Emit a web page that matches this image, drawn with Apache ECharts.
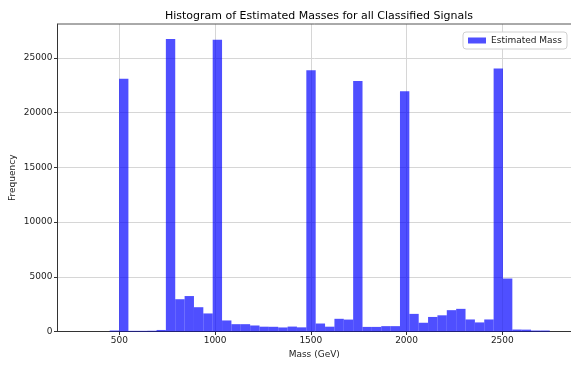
<!DOCTYPE html>
<html>
<head>
<meta charset="utf-8">
<script src="https://cdn.jsdelivr.net/npm/echarts@6/dist/echarts.min.js"></script>
<style>
  html, body { margin: 0; padding: 0; background: #fff; }
  #chart { width: 571px; height: 365px; }
</style>
</head>
<body>
<div id="chart"></div>
<script>
// Histogram bins: 50 equal-width bins over the mass range (GeV)
const binStart = 302.8;
const binWidth = 48.9;
const binCounts = [
  0, 0, 0, 90, 23100, 60, 60, 70, 140, 26720,
  2950, 3240, 2220, 1650, 26650, 1010, 670, 670, 550, 440,
  430, 370, 450, 380, 23880, 730, 440, 1160, 1090, 22880,
  420, 420, 490, 490, 21960, 1610, 800, 1330, 1480, 1950,
  2070, 1100, 830, 1100, 24040, 4840, 180, 170, 90, 90
];
const xTicks = [500, 1000, 1500, 2000, 2500];
const yTicks = [0, 5000, 10000, 15000, 20000, 25000];
const seriesName = 'Estimated Mass';

const binData = binCounts.map((c, i) => [
  binStart + i * binWidth,
  binStart + (i + 1) * binWidth,
  c
]);

const font = 'DejaVu Sans';
const plain = v => String(v);
const chart = echarts.init(document.getElementById('chart'), null, { renderer: 'canvas' });

chart.setOption({
  animation: false,
  title: {
    text: 'Histogram of Estimated Masses for all Classified Signals',
    left: 314, top: 6, textAlign: 'center',
    textStyle: { fontFamily: font, fontSize: 11, fontWeight: 'normal', color: '#000' }
  },
  legend: {
    data: [seriesName],
    right: 4, top: 32,
    itemWidth: 18, itemHeight: 6, itemGap: 6,
    padding: [4, 5, 4, 5],
    borderColor: '#d0d0d0', borderWidth: 1, borderRadius: 3,
    backgroundColor: '#fff',
    textStyle: { fontFamily: font, fontSize: 9, color: '#222' },
    icon: 'rect'
  },
  grid: { left: 57.5, right: 0, top: 24, bottom: 33.5, containLabel: false, outerBoundsMode: 'none' },
  xAxis: {
    type: 'value',
    min: 177, max: 2858.5,
    name: 'Mass (GeV)', nameLocation: 'middle', nameGap: 19, nameMoveOverlap: false,
    nameTextStyle: { fontFamily: font, fontSize: 9, color: '#222' },
    axisLine: { show: true, onZero: false, lineStyle: { color: '#333', width: 1 } },
    axisTick: { show: true, length: 3.5, lineStyle: { color: '#333' },
      customValues: xTicks },
    axisLabel: { fontFamily: font, fontSize: 9, color: '#222', margin: 5,
      customValues: xTicks, formatter: plain },
    splitLine: { show: true, lineStyle: { color: '#d6d6d6', width: 1 } },
    interval: 500
  },
  yAxis: {
    type: 'value',
    min: 0, max: 28100, interval: 5000,
    name: 'Frequency', nameLocation: 'middle', nameGap: 40, nameMoveOverlap: false,
    nameTextStyle: { fontFamily: font, fontSize: 9, color: '#222' },
    axisLine: { show: true, lineStyle: { color: '#333', width: 1 } },
    axisTick: { show: true, length: 3.5, lineStyle: { color: '#333' },
      customValues: yTicks },
    axisLabel: { fontFamily: font, fontSize: 9, color: '#222', margin: 5,
      customValues: yTicks, formatter: plain },
    splitLine: { show: true, lineStyle: { color: '#d6d6d6', width: 1 } }
  },
  series: [{
    name: seriesName,
    type: 'custom',
    itemStyle: { color: 'rgba(0,0,255,0.69)' },
    encode: { x: [0, 1], y: 2 },
    data: binData,
    renderItem: function (params, api) {
      const p0 = api.coord([api.value(0), api.value(2)]);
      const p1 = api.coord([api.value(1), 0]);
      return {
        type: 'rect',
        shape: { x: p0[0], y: p0[1], width: p1[0] - p0[0], height: p1[1] - p0[1] },
        style: { fill: 'rgba(0,0,255,0.69)' }
      };
    }
  }],
  graphic: [{
    // top frame line of the plot area
    type: 'line',
    shape: { x1: 57.5, y1: 24, x2: 571, y2: 24 },
    style: { stroke: '#555', lineWidth: 1 },
    z: 10
  }]
});
</script>
</body>
</html>
